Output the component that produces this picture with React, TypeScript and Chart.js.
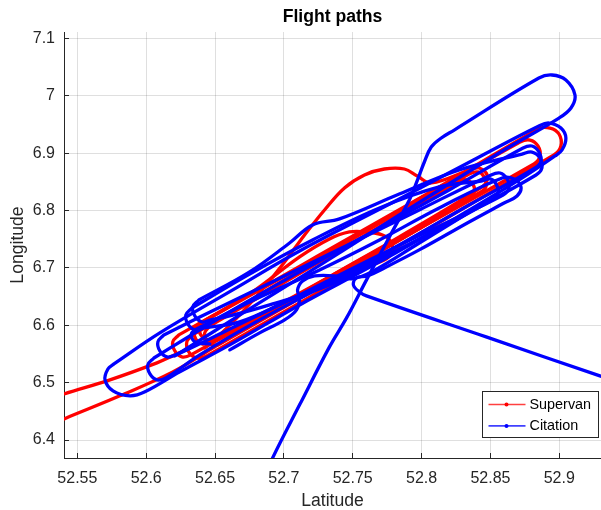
import { useEffect, useRef } from 'react';
import { Chart, registerables } from 'chart.js';

Chart.register(...registerables);

// ---------- data ----------
const seriesNames = ['Supervan', 'Citation'];
const seriesColors = ['#ff0000', '#0000ff'];
const latTicks = [52.55, 52.6, 52.65, 52.7, 52.75, 52.8, 52.85, 52.9];
const lonTicks = [6.4, 6.5, 6.6, 6.7, 6.8, 6.9, 7.0, 7.1];
const latRange = [52.5403, 52.9303];
const lonRange = [6.3687, 7.111];

// Supervan tracks: [latitude, longitude]
const svLoopA = [[52.6338, 6.5832], [52.8845, 6.942], [52.8933, 6.9437], [52.8998, 6.9333], [52.9012, 6.9124], [52.8961, 6.8967], [52.644, 6.5465], [52.6367, 6.543], [52.6309, 6.5536], [52.6295, 6.571], [52.6338, 6.5832]];
const svLoopB = [[52.6237, 6.5832], [52.8715, 6.9193], [52.8788, 6.9228], [52.8845, 6.9124], [52.886, 6.895], [52.8816, 6.881], [52.6324, 6.5484], [52.6259, 6.5449], [52.6208, 6.5553], [52.6193, 6.571], [52.6237, 6.5832]];
const svLoopC = [[52.6382, 6.6023], [52.8345, 6.8636], [52.8411, 6.8671], [52.8454, 6.8584], [52.8469, 6.8427], [52.8433, 6.8323], [52.6469, 6.571], [52.6404, 6.5674], [52.636, 6.5761], [52.6346, 6.5919], [52.6382, 6.6023]];
const svLoopD = [[52.6462, 6.5988], [52.8273, 6.8514], [52.8324, 6.8532], [52.8375, 6.8445], [52.8382, 6.8323], [52.8345, 6.82], [52.6534, 6.5674], [52.6483, 6.5658], [52.6433, 6.5745], [52.6425, 6.5867], [52.6462, 6.5988]];
const svHump = [[52.6425, 6.5604], [52.6512, 6.578], [52.6679, 6.618], [52.6846, 6.6632], [52.7005, 6.7104], [52.715, 6.7573], [52.7295, 6.8009], [52.744, 6.8393], [52.7585, 6.8619], [52.773, 6.8723], [52.7875, 6.8723], [52.7969, 6.8601], [52.807, 6.848], [52.8367, 6.8723], [52.8418, 6.8741], [52.8469, 6.8653], [52.8476, 6.8532], [52.844, 6.841], [52.7838, 6.7539], [52.7331, 6.6843], [52.6824, 6.6128], [52.6549, 6.571]];
const svLoopE = [[52.6425, 6.6075], [52.6751, 6.6545], [52.7114, 6.7191], [52.7331, 6.7503], [52.7476, 6.7626], [52.76, 6.7626], [52.7716, 6.7573], [52.7773, 6.7469], [52.7788, 6.7294], [52.7744, 6.7155], [52.7636, 6.705], [52.7404, 6.6825], [52.7041, 6.6389], [52.6498, 6.5761], [52.6447, 6.5745], [52.6396, 6.5832], [52.6389, 6.5953], [52.6425, 6.6075]];
const svInboundNorth = [[52.5302, 6.4716], [52.5404, 6.4805], [52.5737, 6.5049], [52.6078, 6.5345], [52.6208, 6.5484], [52.6317, 6.5604]];
const svInboundSouth = [[52.5302, 6.4263], [52.5404, 6.4369], [52.5809, 6.477], [52.6193, 6.5188], [52.6483, 6.5604], [52.6896, 6.6215], [52.7404, 6.6912], [52.7838, 6.7487], [52.8273, 6.8096], [52.8433, 6.8323]];

// Citation tracks: [latitude, longitude]
const ciLoopA = [[52.5766, 6.5327], [52.6099, 6.5867], [52.6629, 6.6616], [52.7114, 6.7294], [52.7838, 6.82], [52.8418, 6.8932], [52.8852, 6.9472], [52.8925, 6.9524], [52.9012, 6.9437], [52.9048, 6.9263], [52.902, 6.9054], [52.8969, 6.895], [52.8708, 6.8532], [52.82, 6.78], [52.7694, 6.7104], [52.7114, 6.6354], [52.6607, 6.5658], [52.6244, 6.5188], [52.5991, 6.484], [52.5882, 6.477], [52.5759, 6.4857], [52.5701, 6.5049], [52.5722, 6.5239], [52.5766, 6.5327]];
const ciLoopB = [[52.6056, 6.543], [52.6317, 6.5813], [52.6679, 6.6336], [52.7114, 6.693], [52.7694, 6.7696], [52.82, 6.8358], [52.8737, 6.9089], [52.8802, 6.9124], [52.8852, 6.9019], [52.8867, 6.8862], [52.8824, 6.8741], [52.8345, 6.8096], [52.7838, 6.74], [52.7331, 6.6738], [52.6824, 6.6093], [52.6389, 6.5484], [52.6143, 6.5083], [52.6078, 6.5049], [52.6027, 6.5153], [52.6012, 6.531], [52.6056, 6.543]];
const ciLoopC = [[52.6128, 6.5832], [52.6389, 6.6144], [52.6824, 6.665], [52.7331, 6.7242], [52.7983, 6.8009], [52.8505, 6.8619], [52.857, 6.8653], [52.8621, 6.8549], [52.8635, 6.8393], [52.8592, 6.8271], [52.8128, 6.773], [52.7621, 6.7139], [52.7114, 6.6528], [52.6607, 6.5935], [52.6215, 6.5484], [52.615, 6.5449], [52.6099, 6.5553], [52.6085, 6.571], [52.6128, 6.5832]];
const ciLoopD = [[52.6331, 6.6301], [52.6751, 6.6894], [52.7208, 6.7487], [52.7694, 6.8044], [52.8128, 6.841], [52.8433, 6.8514], [52.8498, 6.8549], [52.8541, 6.8462], [52.8556, 6.8305], [52.852, 6.82], [52.8056, 6.7591], [52.7549, 6.6999], [52.7041, 6.6441], [52.6679, 6.6058], [52.6418, 6.5953], [52.6353, 6.5919], [52.6302, 6.6023], [52.6288, 6.618], [52.6331, 6.6301]];
const ciLoopE = [[52.6382, 6.6441], [52.6751, 6.693], [52.7041, 6.7434], [52.7208, 6.7748], [52.7404, 6.7853], [52.7838, 6.8287], [52.8273, 6.8706], [52.873, 6.8984], [52.8802, 6.9019], [52.886, 6.8915], [52.8874, 6.8741], [52.8831, 6.8619], [52.8345, 6.7974], [52.7838, 6.7313], [52.7331, 6.6702], [52.6896, 6.6354], [52.6607, 6.6162], [52.6469, 6.6093], [52.6404, 6.6058], [52.6353, 6.6162], [52.6338, 6.6319], [52.6382, 6.6441]];
const ciNorthLoop = [[52.6874, 6.3427], [52.6918, 6.3688], [52.7114, 6.4613], [52.7331, 6.5623], [52.7455, 6.6128], [52.76, 6.6791], [52.7766, 6.7539], [52.7911, 6.8184], [52.7962, 6.848], [52.802, 6.8845], [52.807, 6.9106], [52.8143, 6.9263], [52.8237, 6.9402], [52.8852, 7.0308], [52.8947, 7.0361], [52.9048, 7.0273], [52.9114, 7.0012], [52.9085, 6.9786], [52.8998, 6.9611], [52.8563, 6.9002], [52.7838, 6.7922], [52.7426, 6.7295], [52.7114, 6.6825], [52.6751, 6.6284], [52.6462, 6.5848], [52.6208, 6.5465]];
const ciEastInbound = [[52.9431, 6.5012], [52.9295, 6.5118], [52.8469, 6.5797], [52.76, 6.6512], [52.7549, 6.658], [52.7505, 6.6702], [52.7527, 6.6825], [52.7607, 6.686], [52.773, 6.6999], [52.7983, 6.7313], [52.8345, 6.78], [52.8599, 6.8131], [52.8693, 6.8253], [52.8722, 6.841], [52.8672, 6.8549], [52.8585, 6.8567], [52.8128, 6.8044], [52.7694, 6.7487], [52.7259, 6.6965], [52.6751, 6.6406], [52.6425, 6.6006], [52.6331, 6.5867], [52.6353, 6.571], [52.6462, 6.5674]];
const ciCurl = [[52.6607, 6.5571], [52.6824, 6.5867], [52.7005, 6.6093], [52.7092, 6.6267], [52.7114, 6.6476], [52.7099, 6.6616], [52.7136, 6.6773], [52.7223, 6.686], [52.7368, 6.686], [52.7491, 6.6808], [52.7636, 6.693], [52.7983, 6.7434], [52.849, 6.8184]];

const supervanTracks = [svLoopA, svLoopB, svLoopC, svLoopD, svHump, svLoopE, svInboundNorth, svInboundSouth];
const citationTracks = [ciLoopA, ciLoopB, ciLoopC, ciLoopD, ciLoopE, ciNorthLoop, ciEastInbound, ciCurl];

// ---------- helpers ----------
const TEXT = '#262626';
const FONT = '"Liberation Sans", Arial, Helvetica, sans-serif';
const fmt = (v: number | string) => String(parseFloat(Number(v).toFixed(2)));
const align = (p: number) => Math.round(p - 0.5) + 0.5;

const makeSets = (tracks: number[][][], idx: number) =>
  tracks.map((track) => ({
    label: seriesNames[idx],
    data: track.map(([lat, lon]) => ({ x: lat, y: lon })),
    borderColor: seriesColors[idx],
    backgroundColor: seriesColors[idx],
    showLine: true,
    pointRadius: 0,
    borderWidth: 3.3,
    tension: 0.38,
    borderJoinStyle: 'round' as const,
    borderCapStyle: 'round' as const,
    fill: false,
    order: idx === 0 ? 2 : 1,
  }));

const axesDecor = {
  id: 'axesDecor',
  afterDraw(chart: any) {
    const { ctx, chartArea, scales } = chart;
    const xs = scales.x;
    const ys = scales.y;
    ctx.save();
    // inward tick marks
    ctx.strokeStyle = TEXT;
    ctx.lineWidth = 1;
    ctx.beginPath();
    xs.ticks.forEach((t: any) => {
      const px = align(xs.getPixelForValue(t.value));
      ctx.moveTo(px, chartArea.bottom);
      ctx.lineTo(px, chartArea.bottom - 5);
    });
    ys.ticks.forEach((t: any) => {
      const py = align(ys.getPixelForValue(t.value));
      ctx.moveTo(chartArea.left, py);
      ctx.lineTo(chartArea.left + 5, py);
    });
    ctx.stroke();

    // legend box (lower right, inside axes)
    const w = 116;
    const h = 46;
    const bx = Math.round(chartArea.right - 119) + 0.5;
    const by = Math.round(chartArea.bottom - 67) + 0.5;
    ctx.fillStyle = '#ffffff';
    ctx.fillRect(bx, by, w, h);
    ctx.strokeStyle = TEXT;
    ctx.lineWidth = 1;
    ctx.strokeRect(bx, by, w, h);
    ctx.font = `14.4px ${FONT}`;
    ctx.textBaseline = 'middle';
    ctx.textAlign = 'left';
    seriesNames.forEach((name, i) => {
      const ly = by + 13 + i * 21.4;
      ctx.strokeStyle = seriesColors[i];
      ctx.globalAlpha = 0.75;
      ctx.lineWidth = 1.6;
      ctx.beginPath();
      ctx.moveTo(bx + 6, ly);
      ctx.lineTo(bx + 43, ly);
      ctx.stroke();
      ctx.globalAlpha = 1;
      ctx.fillStyle = seriesColors[i];
      ctx.beginPath();
      ctx.arc(bx + 24, ly, 2, 0, Math.PI * 2);
      ctx.fill();
      ctx.fillStyle = '#000000';
      ctx.fillText(name, bx + 47, ly + 0.5);
    });
    ctx.restore();
  },
};

export default function App() {
  const ref = useRef<HTMLCanvasElement>(null);
  useEffect(() => {
    if (!ref.current) return;
    Chart.defaults.font.family = FONT;
    const chart = new Chart(ref.current, {
      type: 'scatter',
      data: {
        datasets: [...makeSets(supervanTracks, 0), ...makeSets(citationTracks, 1)] as any,
      },
      options: {
        animation: false,
        responsive: false,
        devicePixelRatio: 1,
        events: [],
        layout: { padding: 0 },
        plugins: {
          legend: { display: false },
          tooltip: { enabled: false },
          title: {
            display: true,
            text: 'Flight paths',
            fullSize: false,
            color: '#000000',
            font: { size: 17.6, weight: 'bold', lineHeight: 1.2, family: FONT },
            padding: { top: 6.9, bottom: 4 },
          },
        },
        scales: {
          x: {
            type: 'linear',
            position: 'bottom',
            min: latRange[0],
            max: latRange[1],
            afterBuildTicks: (s: any) => {
              s.ticks = latTicks.map((v) => ({ value: v }));
            },
            afterFit: (s: any) => {
              s.height = 52;
            },
            ticks: {
              callback: (v: any) => fmt(v),
              color: TEXT,
              font: { size: 16, family: FONT },
              padding: 11,
              maxRotation: 0,
              autoSkip: false,
            },
            grid: { color: 'rgba(38,38,38,0.15)', drawTicks: false, lineWidth: 1 },
            border: { display: true, color: TEXT, width: 1 },
            title: {
              display: true,
              text: 'Latitude',
              color: TEXT,
              font: { size: 17.6, lineHeight: 1, family: FONT },
              padding: { top: 0, bottom: 0 },
            },
          },
          y: {
            type: 'linear',
            position: 'left',
            min: lonRange[0],
            max: lonRange[1],
            afterBuildTicks: (s: any) => {
              s.ticks = lonTicks.map((v) => ({ value: v }));
            },
            afterFit: (s: any) => {
              s.width = 64;
            },
            ticks: {
              callback: (v: any) => fmt(v),
              color: TEXT,
              font: { size: 16, family: FONT },
              padding: 9,
              autoSkip: false,
            },
            grid: { color: 'rgba(38,38,38,0.15)', drawTicks: false, lineWidth: 1 },
            border: { display: true, color: TEXT, width: 1 },
            title: {
              display: true,
              text: 'Longitude',
              color: TEXT,
              font: { size: 17.6, lineHeight: 1, family: FONT },
              padding: { top: 9.5, bottom: 0 },
            },
          },
        },
      } as any,
      plugins: [axesDecor],
    });
    return () => chart.destroy();
  }, []);

  return (
    <div style={{ position: 'absolute', left: 0, top: 0, width: 601, height: 510, background: '#ffffff' }}>
      <canvas ref={ref} width={601} height={510} style={{ display: 'block' }} />
    </div>
  );
}
